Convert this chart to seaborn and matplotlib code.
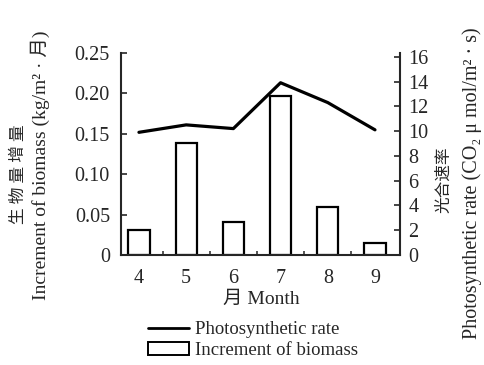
import numpy as np
import pandas as pd
import matplotlib
matplotlib.use("Agg")
import matplotlib.pyplot as plt
import seaborn as sns
from matplotlib.lines import Line2D
from matplotlib.patches import Patch
from matplotlib.ticker import FixedLocator

months = ["4", "5", "6", "7", "8", "9"]
biomass = [0.031, 0.139, 0.041, 0.197, 0.059, 0.015]
photo_rate = [9.9, 10.5, 10.2, 13.9, 12.3, 10.1]
left_ticks = [0, 0.05, 0.10, 0.15, 0.20, 0.25]
left_ticklabels = ["0", "0.05", "0.10", "0.15", "0.20", "0.25"]
right_ticks = [0, 2, 4, 6, 8, 10, 12, 14, 16]

sns.set_style("ticks")
plt.rcParams['font.family'] = ['Liberation Serif', 'Noto Sans CJK SC', 'DejaVu Sans']
plt.rcParams['font.size'] = 13

df = pd.DataFrame({"month": months, "biomass": biomass, "rate": photo_rate})

fig = plt.figure(figsize=(4.85, 3.65), dpi=100)
ax = fig.add_axes([121/485, 110/365, 279/485, 202/365])
sns.barplot(data=df, x="month", y="biomass", ax=ax, width=0.45, fill=False,
            color="black", linewidth=1.6, errorbar=None)
ax2 = ax.twinx()
sns.pointplot(data=df, x="month", y="rate", ax=ax2, color="black", marker="",
              linewidth=2.3, errorbar=None)

ax.set_xlim(-0.38, 5.53)
ax.set_ylim(0, 0.25)
ax2.set_ylim(0, 16.3)
ax.set_yticks(left_ticks)
ax.set_yticklabels(left_ticklabels)
ax2.set_yticks(right_ticks)
ax2.set_yticklabels([str(t) for t in right_ticks])

for a in (ax, ax2):
    a.set_xlabel("")
    a.set_ylabel("")
    a.spines['top'].set_visible(False)
    for s in a.spines.values():
        s.set_linewidth(1.5)
ax.spines['right'].set_visible(False)
ax2.spines['left'].set_visible(False)
ax2.spines['bottom'].set_visible(False)

ax.tick_params(axis='y', direction='in', length=4, width=1.2, pad=8, labelsize=14.5)
ax2.tick_params(axis='y', direction='in', length=4, width=1.2, pad=6, labelsize=14.5)
ax.tick_params(axis='x', which='major', length=0, pad=10, labelsize=14.5)
ax.xaxis.set_minor_locator(FixedLocator(np.arange(len(months) - 1) + 0.5))
ax.tick_params(axis='x', which='minor', direction='in', length=3, width=1.1)

fig.text(19/485, 1 - 174/365, "生 物 量 增 量", rotation=90, ha='center', va='center',
         fontsize=12)
fig.text(40/485, 1 - 165/365, "Increment of biomass (kg/m² · 月)", rotation=90,
         ha='center', va='center', fontsize=14)
fig.text(444/485, 1 - 180/365, "光合速率", rotation=90, ha='center', va='center', fontsize=12)
fig.text(472/485, 1 - 183/365, "Photosynthetic rate (CO₂ μ mol/m² · s)", rotation=90,
         ha='center', va='center', fontsize=14.5)
fig.text(261/485, 1 - 299/365, "月 Month", ha='center', va='center', fontsize=14)

handles = [Line2D([], [], color='black', linewidth=2),
           Patch(facecolor='white', edgecolor='black', linewidth=1.4)]
fig.legend(handles, ["Photosynthetic rate", "Increment of biomass"],
           loc='upper center', bbox_to_anchor=(253/485, 1 - 312/365), frameon=False,
           fontsize=13.5, handlelength=2.2, handletextpad=0.3, labelspacing=0.2,
           borderpad=0)

fig.savefig("out.png", dpi=100)
